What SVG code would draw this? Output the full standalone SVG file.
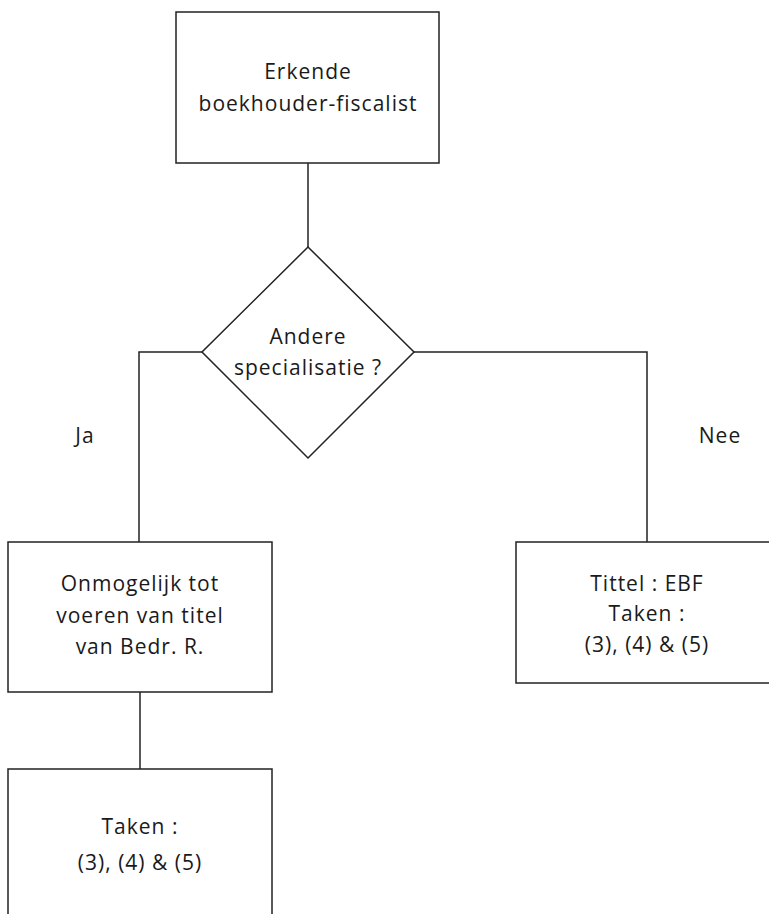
<svg xmlns="http://www.w3.org/2000/svg" width="769" height="914" viewBox="0 0 769 914">
<style>
.n{fill:#fff;stroke:#222;stroke-width:1.5}
.c{fill:none;stroke:#222;stroke-width:1.5}
text{font-family:"Open Sans","Noto Sans","DejaVu Sans",sans-serif;font-size:21px;letter-spacing:1px;fill:#1a1a1a;text-anchor:middle}
</style>
<rect width="769" height="914" fill="#fff"/>
<g id="connectors">
<path class="c" d="M308,163V247"/>
<path class="c" d="M202,352H139V542"/>
<path class="c" d="M414,352H647V542"/>
<path class="c" d="M140,692V769"/>
</g>
<g id="n1"><rect class="n" x="176" y="12" width="263" height="151"/>
<text x="308" y="79">Erkende</text><text x="308" y="111">boekhouder-fiscalist</text></g>
<g id="n2"><polygon class="n" points="308,247 414,352 308,458 202,352"/>
<text x="308" y="344">Andere</text><text x="308" y="375">specialisatie ?</text></g>
<g id="lja"><text x="85" y="443">Ja</text></g>
<g id="lnee"><text x="720" y="443">Nee</text></g>
<g id="n3"><rect class="n" x="8" y="542" width="264" height="150"/>
<text x="140" y="591">Onmogelijk tot</text><text x="140" y="623">voeren van titel</text><text x="140" y="654">van Bedr. R.</text></g>
<g id="n4"><rect class="n" x="516" y="542" width="260" height="141"/>
<text x="647" y="591">Tittel : EBF</text><text x="647" y="621">Taken :</text><text x="647" y="652">(3), (4) &amp; (5)</text></g>
<g id="n5"><rect class="n" x="8" y="769" width="264" height="160"/>
<text x="140" y="834">Taken :</text><text x="140" y="870">(3), (4) &amp; (5)</text></g>
</svg>
